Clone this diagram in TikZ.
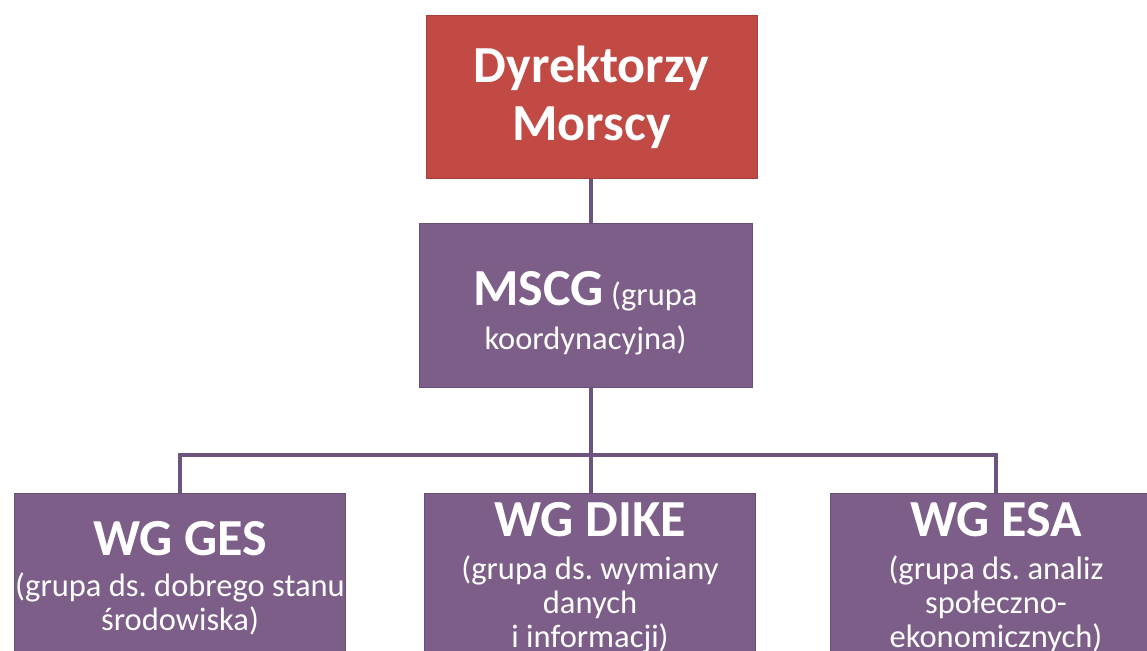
\documentclass[tikz,border=0pt]{standalone}
\usepackage{fontspec}
\setmainfont{Carlito}
\usetikzlibrary{positioning}
\definecolor{boxred}{RGB}{194,74,68}
\definecolor{boxpurple}{RGB}{124,94,137}
\definecolor{linepurple}{RGB}{108,84,124}
\newcommand{\headfont}{\fontsize{52}{58}\selectfont\bfseries}
\newcommand{\bodyfont}{\fontsize{32.5}{34}\selectfont}
\frenchspacing

\begin{document}
\begin{tikzpicture}[x=1pt, y=-1pt,
    box/.style={rectangle, draw=#1!85!black, fill=#1, line width=1pt,
        text=white, align=center, inner sep=0pt},
    subbox/.style={box=boxpurple, minimum width=331, minimum height=170, font=\bodyfont},
    link/.style={draw=linepurple, line width=4pt}]
    \useasboundingbox (0,0) rectangle (1147,650);
    \clip (0,0) rectangle (1147,650);

    \node[box=boxred, minimum width=331, minimum height=162, font=\headfont] (dm) at (591.5,97) {Dyrektorzy\\Morscy};
    \node[box=boxpurple, minimum width=333, minimum height=164, font=\fontsize{32.5}{44}\selectfont] (mscg) at (585.5,305) {\rule{0pt}{50pt}{\headfont MSCG} (grupa\\koordynacyjna)};

    \node[subbox] (ges) at (180,578) {{\headfont WG GES}\\[7pt](grupa ds. dobrego stanu\\środowiska)};
    \node[subbox] (dike) at (590,578) {{\headfont WG DIKE}\\[9pt](grupa ds. wymiany\\danych\\i informacji)};
    \node[subbox] (esa) at (996,578) {{\headfont WG ESA}\\[9pt](grupa ds. analiz\\społeczno-\\ekonomicznych)};

    \coordinate (split) at (591,455);

    \draw[link] (dm.south -| split) -- (mscg.north -| split);
    \draw[link] (mscg.south -| split) -- (dike.north -| split);
    \draw[link] (ges.north) |- (split) -| (esa.north);
\end{tikzpicture}
\end{document}
